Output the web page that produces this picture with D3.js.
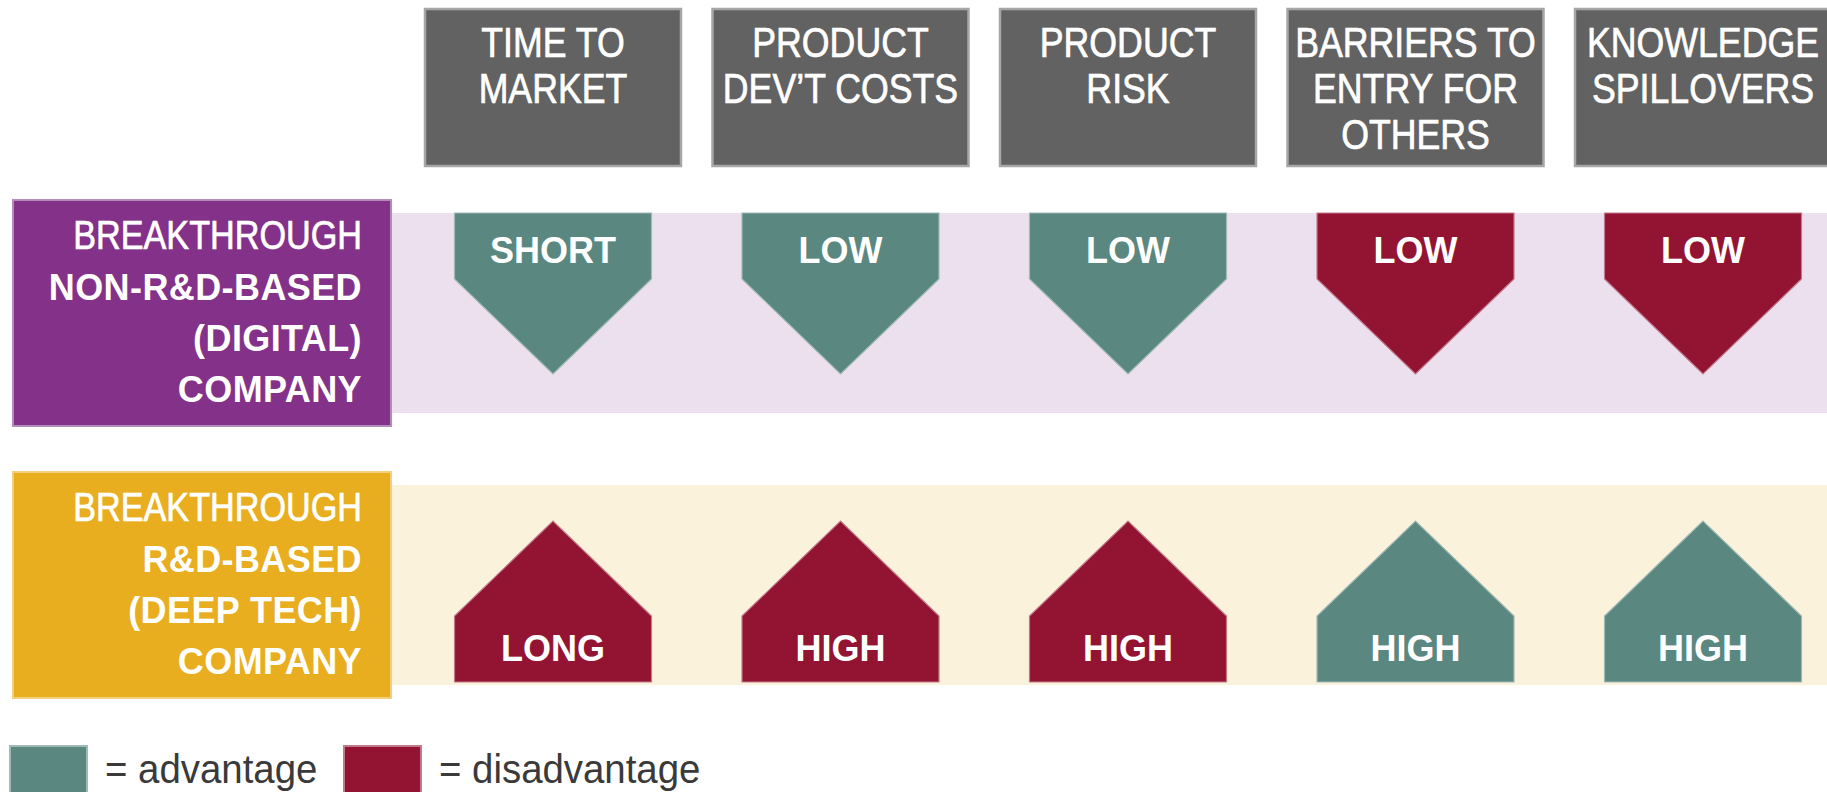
<!DOCTYPE html>
<html>
<head>
<meta charset="utf-8">
<script src="https://cdn.jsdelivr.net/npm/d3@7/dist/d3.min.js"></script>
<style>
  html, body { margin: 0; padding: 0; background: #ffffff; }
  svg { display: block; }
  text { font-family: "Liberation Sans", Arial, sans-serif; }
</style>
</head>
<body>
<svg id="chart" width="1827" height="792"></svg>
<script>
// ---------------- DATA ----------------
const columns = ["TIME TO MARKET", "PRODUCT DEV'T COSTS", "PRODUCT RISK", "BARRIERS TO ENTRY FOR OTHERS", "KNOWLEDGE SPILLOVERS"];
const columnLines = [["TIME TO", "MARKET"], ["PRODUCT", "DEV\u2019T COSTS"], ["PRODUCT", "RISK"], ["BARRIERS TO", "ENTRY FOR", "OTHERS"], ["KNOWLEDGE", "SPILLOVERS"]];

const rows = ["digital", "deeptech"];
const rowLines = [
  ["BREAKTHROUGH", "NON-R&D-BASED", "(DIGITAL)", "COMPANY"],
  ["BREAKTHROUGH", "R&D-BASED", "(DEEP TECH)", "COMPANY"]
];
const rowDirection = ["down", "up"];

const digitalValues = ["SHORT", "LOW", "LOW", "LOW", "LOW"];
const digitalAssessment = ["advantage", "advantage", "advantage", "disadvantage", "disadvantage"];
const deepTechValues = ["LONG", "HIGH", "HIGH", "HIGH", "HIGH"];
const deepTechAssessment = ["disadvantage", "disadvantage", "disadvantage", "advantage", "advantage"];

const legendKeys = ["advantage", "disadvantage"];
const legendLabels = ["= advantage", "= disadvantage"];

// ---------------- STYLE ----------------
const headerFill = "#626262", headerStroke = "#a6a6a6";
const rowFill = ["#833189", "#e8ae1f"];
const rowStroke = ["#b48cbb", "#f1d07e"];
const bandFill = ["#ece0ef", "#fbf2dc"];
const color = d3.scaleOrdinal(legendKeys, ["#5a8780", "#931432"]);
const strokeColor = d3.scaleOrdinal(legendKeys, ["#9fb9b4", "#c27a8a"]);

const svg = d3.select("#chart");

// ---------------- SCALES ----------------
const x = d3.scaleBand().domain(columns).range([425, 1831]).paddingInner(0.1096).paddingOuter(0);
const y = d3.scaleBand().domain(rows).range([213, 685]).paddingInner(0.2647).paddingOuter(0);

const labelLeft = 13, labelRight = 391, labelPad = 13;
const shapeW = 197, shapeRect = 66, shapeTri = 95;

// ---------------- BANDS ----------------
svg.selectAll("rect.band").data(rows).join("rect")
  .attr("class", "band")
  .attr("x", labelRight).attr("y", d => y(d))
  .attr("width", 1827 - labelRight).attr("height", y.bandwidth())
  .attr("fill", (d, i) => bandFill[i]);

// row label boxes
svg.selectAll("rect.rowlabel").data(rows).join("rect")
  .attr("class", "rowlabel")
  .attr("x", labelLeft).attr("y", d => y(d) - labelPad)
  .attr("width", labelRight - labelLeft).attr("height", y.bandwidth() + 2 * labelPad)
  .attr("fill", (d, i) => rowFill[i])
  .attr("stroke", (d, i) => rowStroke[i]).attr("stroke-width", 2);

rows.forEach((r, ri) => {
  const cy = y(r) + y.bandwidth() / 2;
  const g = svg.append("g");
  rowLines[ri].forEach((line, li) => {
    g.append("text")
      .attr("text-anchor", "end")
      .attr("fill", "#ffffff")
      .attr("stroke", li === 0 ? "#ffffff" : "none")
      .attr("stroke-width", 0.7)
      .attr("transform", `translate(362,${cy - 64 + 51 * li})` + (li === 0 ? " scale(0.855,1)" : ""))
      .style("font-size", li === 0 ? "40px" : "36px")
      .style("font-weight", li === 0 ? "normal" : "bold")
      .style("letter-spacing", li === 0 ? "0px" : "0.4px")
      .text(line);
  });
});

// ---------------- HEADERS ----------------
const headerTop = 9, headerH = 157;
svg.selectAll("rect.header").data(columns).join("rect")
  .attr("class", "header")
  .attr("x", d => x(d)).attr("y", headerTop)
  .attr("width", x.bandwidth()).attr("height", headerH)
  .attr("fill", headerFill).attr("stroke", headerStroke).attr("stroke-width", 2.5);

columns.forEach((c, ci) => {
  const cx = x(c) + x.bandwidth() / 2;
  columnLines[ci].forEach((line, li) => {
    svg.append("text")
      .attr("text-anchor", "middle")
      .attr("fill", "#ffffff")
      .attr("stroke", "#ffffff").attr("stroke-width", 0.7)
      .attr("transform", `translate(${cx},${headerTop + 48 + 46 * li}) scale(0.85,1)`)
      .style("font-size", "42px")
      .text(line);
  });
});

// ---------------- SHAPES ----------------
function shapePath(cx, dir, bandTop, bandBottom) {
  const p = d3.path();
  const l = cx - shapeW / 2, r = cx + shapeW / 2;
  if (dir === "down") {
    const t = bandTop;
    p.moveTo(l, t); p.lineTo(r, t); p.lineTo(r, t + shapeRect);
    p.lineTo(cx, t + shapeRect + shapeTri); p.lineTo(l, t + shapeRect); p.closePath();
  } else {
    const b = bandBottom - 3;
    p.moveTo(l, b); p.lineTo(r, b); p.lineTo(r, b - shapeRect);
    p.lineTo(cx, b - shapeRect - shapeTri); p.lineTo(l, b - shapeRect); p.closePath();
  }
  return p.toString();
}

const rowValues = [digitalValues, deepTechValues];
const rowAssess = [digitalAssessment, deepTechAssessment];

rows.forEach((r, ri) => {
  const top = y(r), bottom = y(r) + y.bandwidth();
  const data = columns.map((c, ci) => ({ c, v: rowValues[ri][ci], a: rowAssess[ri][ci] }));
  const g = svg.append("g");
  g.selectAll("path").data(data).join("path")
    .attr("d", d => shapePath(x(d.c) + x.bandwidth() / 2, rowDirection[ri], top, bottom))
    .attr("fill", d => color(d.a))
    .attr("stroke", d => strokeColor(d.a)).attr("stroke-width", 1.2);
  g.selectAll("text").data(data).join("text")
    .attr("x", d => x(d.c) + x.bandwidth() / 2)
    .attr("y", rowDirection[ri] === "down" ? top + 50 : bottom - 24)
    .attr("text-anchor", "middle")
    .attr("fill", "#ffffff")
    .style("font-size", "36px").style("font-weight", "bold")
    .text(d => d.v);
});

// ---------------- LEGEND ----------------
const legendX = d3.scaleOrdinal(legendKeys, [10, 344]);
const lg = svg.append("g");
lg.selectAll("rect").data(legendKeys).join("rect")
  .attr("x", d => legendX(d)).attr("y", 746)
  .attr("width", 77).attr("height", 52)
  .attr("fill", d => color(d))
  .attr("stroke", d => strokeColor(d)).attr("stroke-width", 2);
lg.selectAll("text").data(legendKeys).join("text")
  .attr("transform", d => `translate(${legendX(d) + 95},783) scale(0.96,1)`)
  .attr("fill", "#3a3a3a")
  .style("font-size", "40px")
  .text((d, i) => legendLabels[i]);
</script>
</body>
</html>
